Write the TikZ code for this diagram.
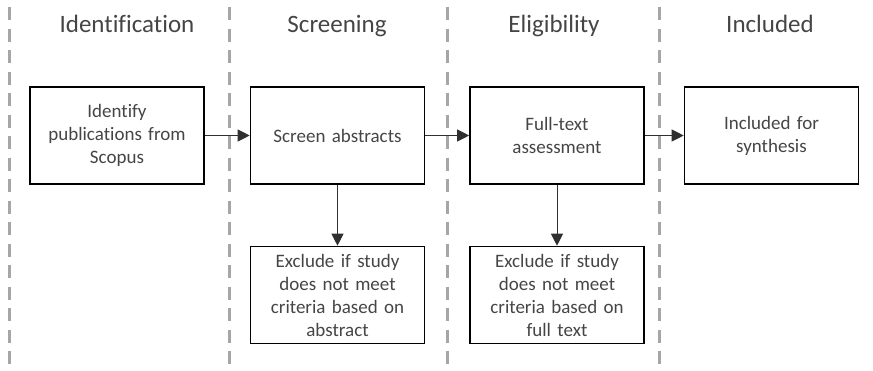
\documentclass[tikz,border=0pt]{standalone}
\usepackage{fontspec}
\setmainfont{Carlito}[Ligatures=NoCommon]
\usetikzlibrary{arrows.meta}
\definecolor{txt}{HTML}{454545}
\definecolor{sep}{HTML}{A6A6A6}
\tikzset{
  stage/.style={draw=black, line width=1.6pt, minimum width=174pt, minimum height=97pt,
    inner sep=2pt, align=center, text width=165pt, text=txt,
    font=\fontsize{19pt}{23pt}\selectfont},
  heading/.style={anchor=base, text=txt, font=\fontsize{25pt}{30pt}\selectfont},
  divider/.style={draw=sep, line width=3pt, dash pattern=on 13pt off 8.5pt},
  flow/.style={draw=txt!70!black, line width=1pt,
    -{Triangle[length=12pt,width=12pt]}}
}
\begin{document}
\begin{tikzpicture}[x=1pt, y=-1pt]
\useasboundingbox (0,0) rectangle (873,370);

% phase dividers
\foreach \xx in {9.5,229,447,659}
  \draw[divider] (\xx,7) -- (\xx,366);

% phase headings
\node[heading] (h1) at (127,32) {Identification};
\node[heading] (h2) at (337,32) {Screening};
\node[heading] (h3) at (554,32) {Eligibility};
\node[heading] (h4) at (770,32) {Included};

% main flow
\node[stage] (ident) at (117,135.5) {Identify\\publications from\\Scopus};
\node[stage] (screen) at (337.5,135.5) {Screen abstracts};
\node[stage] (full) at (557,135.5) {Full-text\\assessment};
\node[stage] (incl) at (771.5,135.5) {Included for\\synthesis};

% exclusions
\node[stage] (exA) at (337.5,295) {Exclude if study\\does not meet\\criteria based on\\abstract};
\node[stage] (exB) at (557,295) {Exclude if study\\does not meet\\criteria based on\\full text};

\draw[flow] (ident) -- (screen);
\draw[flow] (screen) -- (full);
\draw[flow] (full) -- (incl);
\draw[flow] (screen) -- (exA);
\draw[flow] (full) -- (exB);
\end{tikzpicture}
\end{document}
